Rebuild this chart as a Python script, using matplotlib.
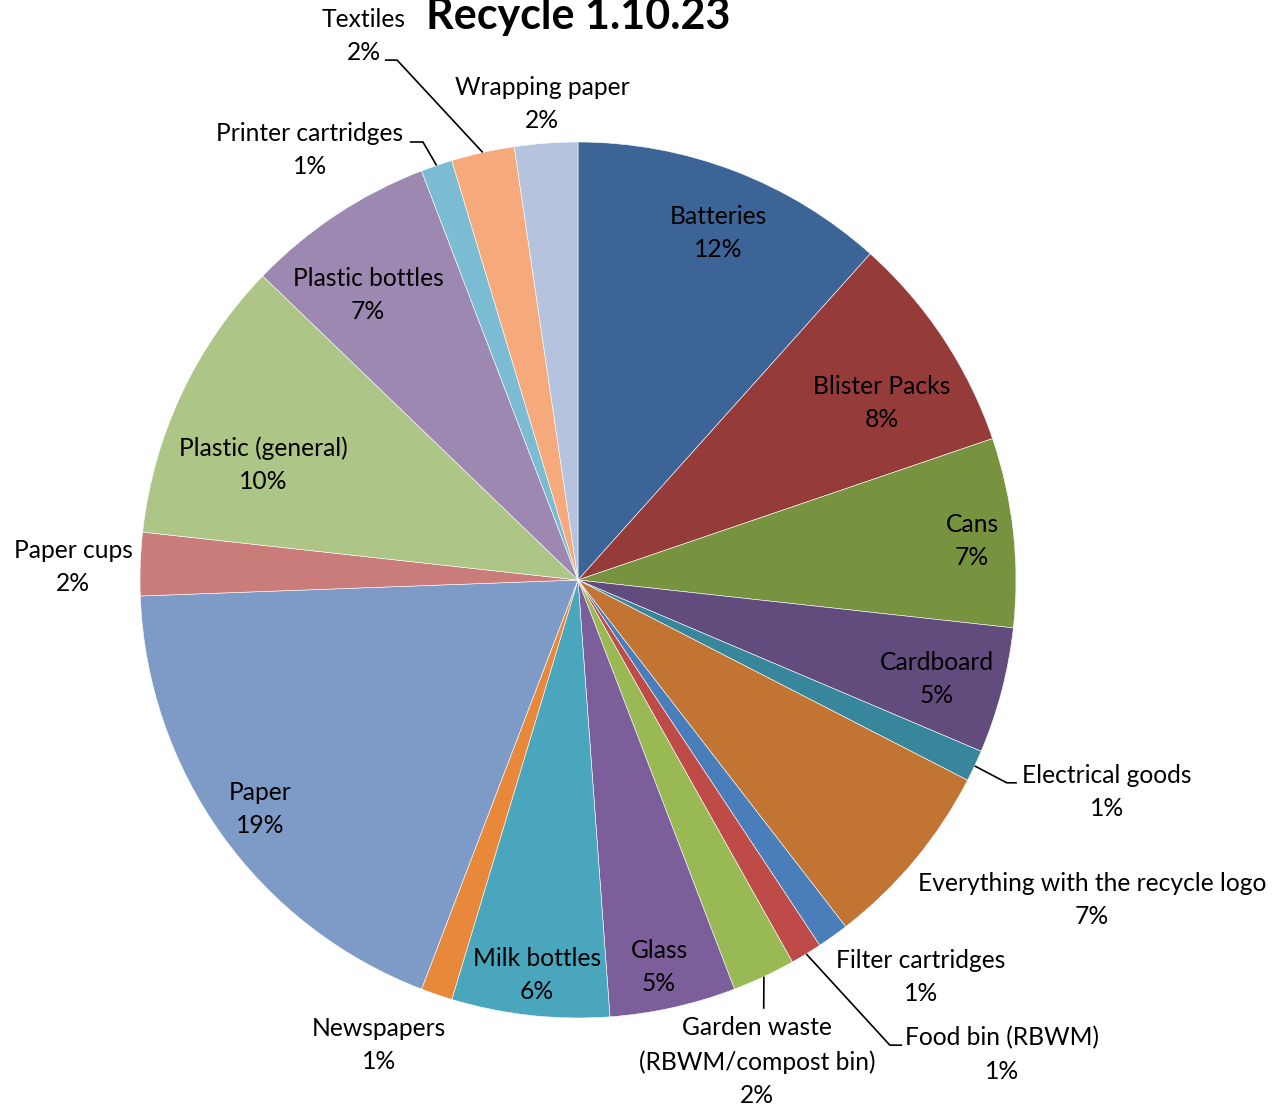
import numpy as np
import matplotlib
matplotlib.use("Agg")
import matplotlib.pyplot as plt

plt.rcParams['font.family'] = ['Lato', 'DejaVu Sans']

# counts per category (clockwise from 12 o'clock)
categories = ["Batteries", "Blister Packs", "Cans", "Cardboard", "Electrical goods",
              "Everything with the recycle logo", "Filter cartridges", "Food bin (RBWM)",
              "Garden waste\n(RBWM/compost bin)", "Glass", "Milk bottles", "Newspapers",
              "Paper", "Paper cups", "Plastic (general)", "Plastic bottles",
              "Printer cartridges", "Textiles", "Wrapping paper"]
counts = [10, 7, 6, 4, 1, 6, 1, 1, 2, 4, 5, 1, 16, 2, 9, 6, 1, 2, 2]

colors = ['#3D6497', '#953B39', '#78933F', '#624B7D', '#38869B', '#C27432',
          '#4A7EBB', '#BE4B48', '#98B954', '#7C5E9B', '#4AA6BD', '#E8883A',
          '#7E9BC8', '#C97C7A', '#ADC586', '#9C88B1', '#7BBCD2', '#F6A97A',
          '#B5C3DF']

# label centres, in pie-radius units (same order as categories)
label_xy = [(0.320, 0.792), (0.694, 0.404), (0.900, 0.089), (0.820, -0.226),
            (1.208, -0.484), (1.174, -0.731), (0.783, -0.906), (0.968, -1.084),
            (0.409, -1.100), (0.185, -0.884), (-0.094, -0.902), (-0.454, -1.062),
            (-0.726, -0.523), (-1.153, 0.030), (-0.719, 0.263), (-0.479, 0.651),
            (-0.612, 0.982), (-0.489, 1.242), (-0.082, 1.087)]
# leader lines: elbow point, end point (start is the slice edge at mid angle)
leaders = {4: [(0.979, -0.463), (1.002, -0.463)],
           7: [(0.712, -1.062), (0.740, -1.062)],
           8: [(0.424, -0.979)],
           16: [(-0.354, 1.0), (-0.384, 1.0)],
           17: [(-0.413, 1.187), (-0.441, 1.187)]}

fig = plt.figure(figsize=(12.74, 11.07), dpi=100)
ax = fig.add_axes([0, 0, 1, 1])

wedges, _ = ax.pie(counts, colors=colors, startangle=90, counterclock=False,
                   radius=1.0, wedgeprops=dict(edgecolor='white', linewidth=0.4))
ax.set_xlim(-578 / 438, 696 / 438)
ax.set_ylim(-527 / 438, 580 / 438)
ax.axis('off')

total = sum(counts)
cum = np.cumsum(counts)
fs = 17.7
for i, (name, c) in enumerate(zip(categories, counts)):
    mid = np.deg2rad((cum[i] - c / 2) / total * 360)
    pct = f"{round(c / total * 100):.0f}%"
    x, y = label_xy[i]
    ax.text(x, y, f"{name}\n{pct}", ha='center', va='center', fontsize=fs,
            color='black', linespacing=1.55)
    if i in leaders:
        pts = [(np.sin(mid), np.cos(mid))] + leaders[i]
        xs, ys = zip(*pts)
        ax.plot(xs, ys, color='black', linewidth=1.2, solid_capstyle='butt')

fig.text(578 / 1274, 1 - 29 / 1107, "Recycle 1.10.23", ha='center', va='baseline',
         fontsize=31, fontweight='bold')

fig.savefig("out.png", dpi=100)
